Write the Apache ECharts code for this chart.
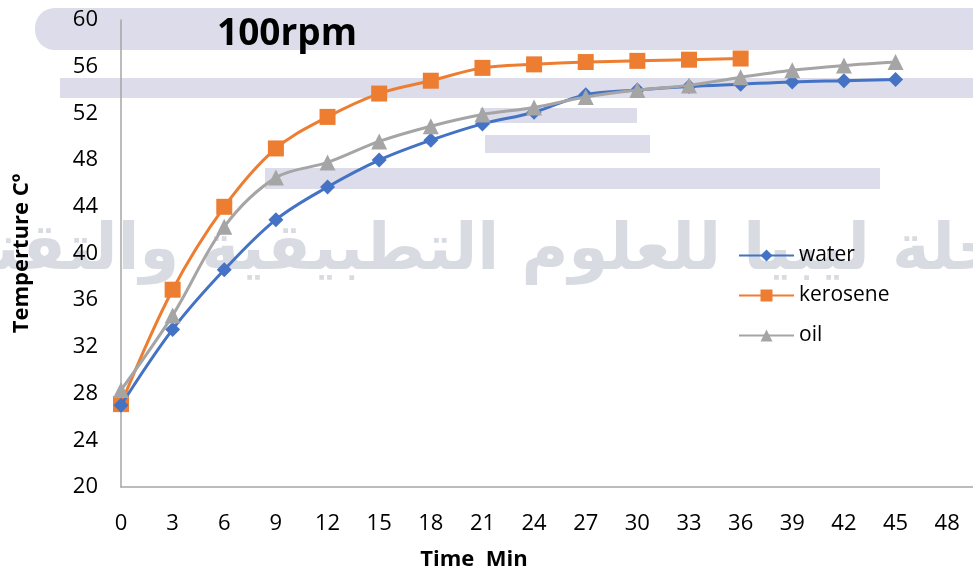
<!DOCTYPE html>
<html>
<head>
<meta charset="utf-8">
<script src="https://cdn.jsdelivr.net/npm/echarts@6/dist/echarts.min.js"></script>
<style>
html,body{margin:0;padding:0;background:#fff;}
#main{width:973px;height:569px;}
</style>
</head>
<body>
<div id="main"></div>
<script>
// ---- data ----
var timeMin = [0, 3, 6, 9, 12, 15, 18, 21, 24, 27, 30, 33, 36, 39, 42, 45];
var water = [27.0, 33.5, 38.6, 42.9, 45.7, 48.0, 49.7, 51.1, 52.1, 53.6, 54.0, 54.3, 54.5, 54.7, 54.8, 54.9];
var kerosene = [27.1, 36.9, 44.0, 49.0, 51.7, 53.7, 54.8, 55.9, 56.2, 56.4, 56.5, 56.6, 56.7];
var oil = [28.3, 34.7, 42.3, 46.5, 47.8, 49.6, 50.9, 51.9, 52.5, 53.4, 54.0, 54.4, 55.1, 55.7, 56.1, 56.4];
var seriesNames = ['water', 'kerosene', 'oil'];
var chartTitle = '100rpm';
var xName = 'Time  Min';
var yName = 'Temperture C\u00BA';
var watermarkText = 'مجلة ليبيا للعلوم التطبيقية والتقنية';

function pairs(xs, ys) {
  var out = [];
  for (var i = 0; i < ys.length; i++) out.push([xs[i], ys[i]]);
  return out;
}

var font = '"Open Sans", "Noto Sans", sans-serif';
var lav = '#dcdcea';

var chart = echarts.init(document.getElementById('main'));
chart.setOption({
  backgroundColor: '#ffffff',
  animation: false,
  title: {
    text: chartTitle,
    left: 217, top: 16, padding: 0,
    textStyle: {fontFamily: font, fontWeight: 'bold', fontSize: 37, color: '#000'}
  },
  graphic: [
    {type: 'rect', z: -10, shape: {x: 35, y: 8, width: 938, height: 42, r: [20, 0, 0, 20]}, style: {fill: lav}},
    {type: 'rect', z: -10, shape: {x: 60, y: 78, width: 913, height: 20}, style: {fill: lav}},
    {type: 'rect', z: -10, shape: {x: 480, y: 108, width: 157, height: 15}, style: {fill: lav}},
    {type: 'rect', z: -10, shape: {x: 485, y: 135, width: 165, height: 18}, style: {fill: lav}},
    {type: 'rect', z: -10, shape: {x: 265, y: 168, width: 615, height: 21}, style: {fill: lav}},
    {type: 'text', z: -9, left: 'center', top: 220,
     style: {text: watermarkText, font: 'bold 64px "DejaVu Sans", sans-serif', fill: '#d8dbe1'}}
  ],
  legend: {
    orient: 'vertical',
    left: 733, top: 240,
    itemWidth: 55, itemHeight: 15, itemGap: 19,
    data: seriesNames,
    textStyle: {fontFamily: font, fontSize: 21, color: '#000'}
  },
  grid: {left: 121, right: 0, top: 20, bottom: 82, containLabel: false, outerBoundsMode: 'none'},
  xAxis: {
    type: 'value', min: 0, max: 49.5, interval: 3,
    name: xName, nameLocation: 'middle', nameGap: 62,
    nameTextStyle: {fontFamily: font, fontWeight: 'bold', fontSize: 22, color: '#000', padding: [0, 146, 0, 0]},
    axisLine: {show: true, lineStyle: {color: '#a6a6a6', width: 1.5}},
    axisTick: {show: false},
    splitLine: {show: false},
    axisLabel: {showMaxLabel: false, margin: 26, fontFamily: font, fontSize: 22, color: '#000'}
  },
  yAxis: {
    type: 'value', min: 20, max: 60, interval: 4,
    name: yName, nameLocation: 'middle', nameGap: 88,
    nameTextStyle: {fontFamily: font, fontWeight: 'bold', fontSize: 22, color: '#000'},
    axisLine: {show: true, lineStyle: {color: '#a6a6a6', width: 1.5}},
    axisTick: {show: false},
    splitLine: {show: false},
    axisLabel: {margin: 23, fontFamily: font, fontSize: 22, color: '#000'}
  },
  series: [
    {name: seriesNames[0], type: 'line', smooth: 0.35, data: pairs(timeMin, water),
     symbol: 'diamond', symbolSize: 15, color: '#4472C4', lineStyle: {width: 3}, z: 3},
    {name: seriesNames[1], type: 'line', smooth: 0.35, data: pairs(timeMin, kerosene),
     symbol: 'rect', symbolSize: 16, color: '#ED7D31', lineStyle: {width: 3}, z: 2},
    {name: seriesNames[2], type: 'line', smooth: 0.35, data: pairs(timeMin, oil),
     symbol: 'triangle', symbolSize: 16, color: '#A5A5A5', lineStyle: {width: 3}, z: 4}
  ]
});
</script>
</body>
</html>
